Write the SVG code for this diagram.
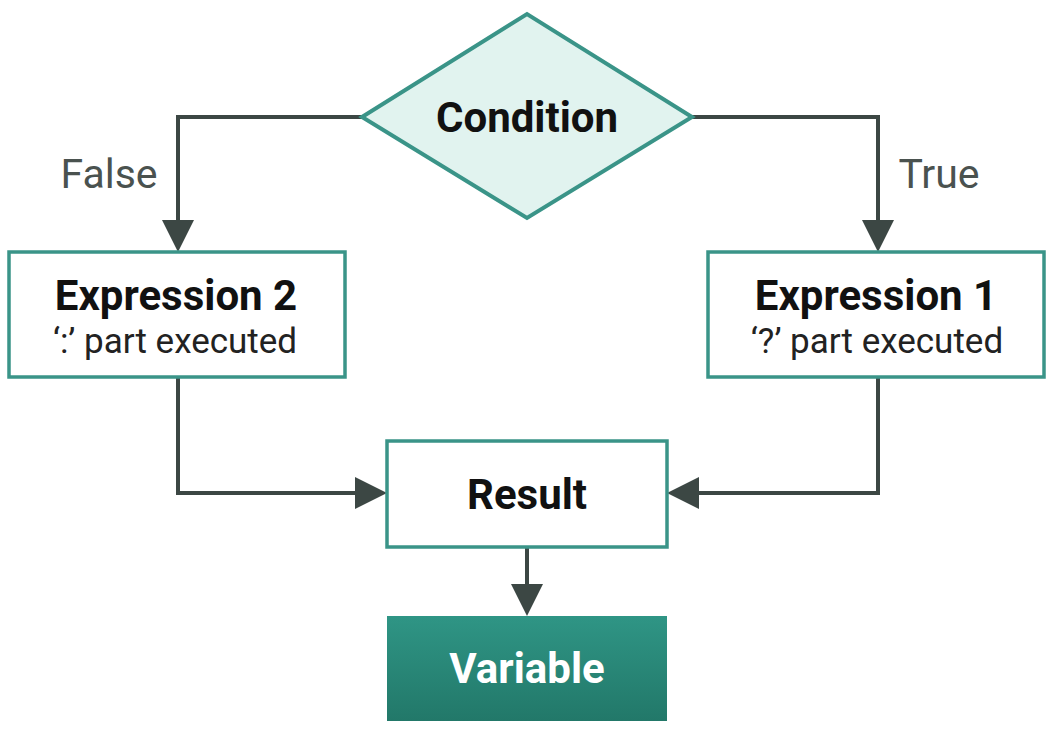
<svg xmlns="http://www.w3.org/2000/svg" width="1053" height="732" viewBox="0 0 1053 732">
<defs>
<linearGradient id="g" x1="0" y1="0" x2="0" y2="1"><stop offset="0" stop-color="#2f9585"/><stop offset="1" stop-color="#227869"/></linearGradient>
<marker id="a" markerWidth="8" markerHeight="8" refX="7" refY="4" orient="auto" markerUnits="strokeWidth"><path d="M0,0 L8,4 L0,8 z" fill="#3c4744"/></marker>
</defs>
<style>
.box{fill:#fff;stroke:#3a9488;stroke-width:3.5}
.c{fill:none;stroke:#3c4744;stroke-width:4;marker-end:url(#a)}
text{font-family:Roboto,"Liberation Sans",sans-serif;text-anchor:middle}
.t{font-weight:bold;font-size:42px;fill:#111}
.s{font-size:35px;fill:#222}
.l{font-size:41px;fill:#4a524f}
</style>
<rect width="1053" height="732" fill="#fff"/>
<g id="connectors">
<path class="c" d="M362,117 H178 V248"/>
<path class="c" d="M692,117 H878 V248"/>
<path class="c" d="M178,377 V493 H383"/>
<path class="c" d="M878,377 V493 H671"/>
<path class="c" d="M527,547 V612"/>
<text class="l" x="109" y="188">False</text>
<text class="l" x="939" y="188">True</text>
</g>
<g id="condition"><polygon points="362,117 527,14 692,117 527,218" fill="#e1f3ef" stroke="#3a9488" stroke-width="4"/><text class="t" x="527" y="132">Condition</text></g>
<g id="expr2"><rect class="box" x="9" y="252" width="336" height="125"/><text class="t" x="176" y="310">Expression 2</text><text class="s" x="175" y="353">‘:’ part executed</text></g>
<g id="expr1"><rect class="box" x="708" y="252" width="336" height="125"/><text class="t" x="876" y="310">Expression 1</text><text class="s" x="877" y="353">‘?’ part executed</text></g>
<g id="result"><rect class="box" x="387" y="441" width="280" height="106"/><text class="t" x="527" y="509">Result</text></g>
<g id="variable"><rect x="387" y="616" width="280" height="105" fill="url(#g)"/><text class="t" x="527" y="683" style="fill:#fff">Variable</text></g>
</svg>
